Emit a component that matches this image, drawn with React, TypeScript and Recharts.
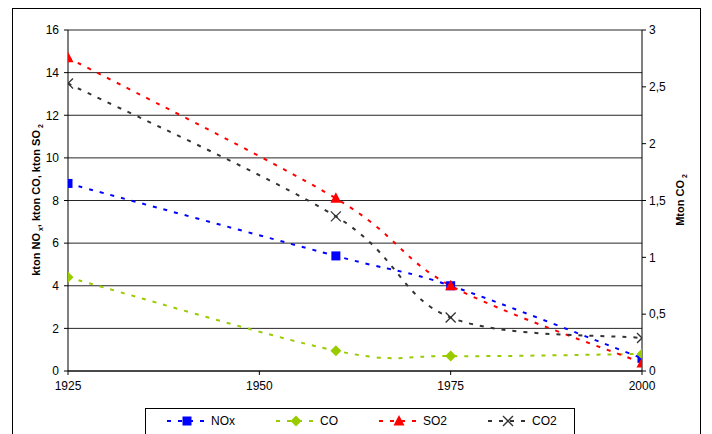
import React from "react";
import {
  LineChart,
  Line,
  XAxis,
  YAxis,
  CartesianGrid,
  Legend,
} from "recharts";

const years = [1925, 1960, 1975, 2000];
const noxValues = [8.8, 5.4, 4.0, 0.6];
const coValues = [4.4, 0.95, 0.7, 0.8];
const so2Values = [14.7, 8.1, 4.0, 0.38];
const co2Values = [2.53, 1.36, 0.47, 0.29];

const xTicks = [1925, 1950, 1975, 2000];
const leftTicks = [0, 2, 4, 6, 8, 10, 12, 14, 16];
const rightTicks = [0, 0.5, 1, 1.5, 2, 2.5, 3];

const seriesInfo = [
  { key: "NOx", name: "NOx", color: "#0000FF", shape: "square" },
  { key: "CO", name: "CO", color: "#99CC00", shape: "diamond" },
  { key: "SO2", name: "SO2", color: "#FF0000", shape: "triangle" },
  { key: "CO2", name: "CO2", color: "#333333", shape: "cross" },
];

const data = years.map((y, i) => ({
  year: y,
  NOx: noxValues[i],
  CO: coValues[i],
  SO2: so2Values[i],
  CO2: co2Values[i],
}));

const FONT = "'Liberation Sans', Arial, sans-serif";

// Excel-like smoothed line (Catmull-Rom through points, as cubic Beziers)
const excelSmooth: any = (context: any) => {
  let pts: number[][] = [];
  return {
    areaStart() {},
    areaEnd() {},
    lineStart() {
      pts = [];
    },
    point(x: number, y: number) {
      pts.push([+x, +y]);
    },
    lineEnd() {
      const n = pts.length;
      if (n === 0) return;
      context.moveTo(pts[0][0], pts[0][1]);
      for (let i = 0; i < n - 1; i++) {
        const p0 = pts[Math.max(i - 1, 0)];
        const p1 = pts[i];
        const p2 = pts[i + 1];
        const p3 = pts[Math.min(i + 2, n - 1)];
        context.bezierCurveTo(
          p1[0] + (p2[0] - p0[0]) / 6,
          p1[1] + (p2[1] - p0[1]) / 6,
          p2[0] - (p3[0] - p1[0]) / 6,
          p2[1] - (p3[1] - p1[1]) / 6,
          p2[0],
          p2[1]
        );
      }
    },
  };
};

function Marker({ shape, color, cx, cy }: { shape: string; color: string; cx: number; cy: number }) {
  if (cx == null || cy == null) return null;
  if (shape === "square") {
    return <rect x={cx - 4.5} y={cy - 4.5} width={9} height={9} fill={color} />;
  }
  if (shape === "diamond") {
    return (
      <polygon
        points={`${cx},${cy - 5.5} ${cx + 5.5},${cy} ${cx},${cy + 5.5} ${cx - 5.5},${cy}`}
        fill={color}
      />
    );
  }
  if (shape === "triangle") {
    return (
      <polygon
        points={`${cx},${cy - 6} ${cx + 5.5},${cy + 4.5} ${cx - 5.5},${cy + 4.5}`}
        fill={color}
      />
    );
  }
  return (
    <g stroke={color} strokeWidth={1.3}>
      <line x1={cx - 5} y1={cy - 5} x2={cx + 5} y2={cy + 5} />
      <line x1={cx - 5} y1={cy + 5} x2={cx + 5} y2={cy - 5} />
    </g>
  );
}

const makeDot = (shape: string, color: string) => (props: any) => (
  <Marker key={`${shape}-${props.index}`} shape={shape} color={color} cx={props.cx} cy={props.cy} />
);

const LeftLabel = () => {
  const x = 40;
  const y = 200;
  return (
    <text
      x={x}
      y={y}
      transform={`rotate(-90, ${x}, ${y})`}
      textAnchor="middle"
      fontFamily={FONT}
      fontWeight="bold"
      fontSize={11}
      fill="#000"
    >
      <tspan>kton NO</tspan>
      <tspan fontSize={7} dy={3}> x</tspan>
      <tspan dy={-3}>, kton CO, kton SO</tspan>
      <tspan fontSize={7} dy={3}> 2</tspan>
    </text>
  );
};

const RightLabel = () => {
  const x = 684;
  const y = 200;
  return (
    <text
      x={x}
      y={y}
      transform={`rotate(-90, ${x}, ${y})`}
      textAnchor="middle"
      fontFamily={FONT}
      fontWeight="bold"
      fontSize={11}
      fill="#000"
    >
      <tspan>Mton CO</tspan>
      <tspan fontSize={7} dy={3}> 2</tspan>
    </text>
  );
};

const LegendContent = () => {
  const itemX = [22, 131, 234, 343];
  return (
    <svg width={430} height={30} style={{ display: "block" }}>
      {seriesInfo.map((s, i) => {
        const x0 = itemX[i];
        return (
          <g key={s.key}>
            <line
              x1={x0}
              y1={12}
              x2={x0 + 38}
              y2={12}
              stroke={s.color}
              strokeWidth={2}
              strokeDasharray="4 7"
            />
            <Marker shape={s.shape} color={s.color} cx={x0 + 20} cy={12} />
            <text x={x0 + 44} y={16} fontFamily={FONT} fontSize={12} fill="#000">
              {s.name}
            </text>
          </g>
        );
      })}
    </svg>
  );
};

const fmtRight = (v: number) => String(v).replace(".", ",");

export default function App() {
  return (
    <div style={{ position: "absolute", left: 0, top: 0, width: 712, height: 434, background: "#fff", overflow: "hidden" }}>
      <div
        style={{
          position: "absolute",
          left: 12,
          top: 8,
          width: 689,
          height: 440,
          border: "1px solid #000",
          boxSizing: "border-box",
        }}
      />
      <div
        style={{
          position: "absolute",
          left: 145,
          top: 408,
          width: 430,
          height: 40,
          border: "1px solid #000",
          boxSizing: "border-box",
          background: "#fff",
        }}
      />
      <div style={{ position: "absolute", left: 0, top: 0 }}>
        <LineChart
          width={712}
          height={434}
          data={data}
          margin={{ top: 30, right: 30, left: 28, bottom: 38 }}
        >
          <CartesianGrid
            yAxisId="left"
            vertical={false}
            horizontal={true}
            stroke="#000"
            strokeOpacity={0.85}
          />
          <XAxis
            dataKey="year"
            type="number"
            domain={[1925, 2000]}
            ticks={xTicks}
            height={25}
            tickSize={4}
            tickMargin={6}
            axisLine={{ stroke: "#000" }}
            tickLine={{ stroke: "#000" }}
            tick={{ fontFamily: FONT, fontSize: 12, fill: "#000" }}
            allowDataOverflow
          />
          <YAxis
            yAxisId="left"
            domain={[0, 16]}
            ticks={leftTicks}
            width={40}
            tickSize={4}
            tickMargin={5}
            axisLine={{ stroke: "#000" }}
            tickLine={{ stroke: "#000" }}
            tick={{ fontFamily: FONT, fontSize: 12, fill: "#000" }}
            label={{ content: LeftLabel }}
          />
          <YAxis
            yAxisId="right"
            orientation="right"
            domain={[0, 3]}
            ticks={rightTicks}
            width={40}
            tickSize={4}
            tickMargin={3}
            tickFormatter={fmtRight}
            axisLine={{ stroke: "#000" }}
            tickLine={{ stroke: "#000" }}
            tick={{ fontFamily: FONT, fontSize: 12, fill: "#000" }}
            label={{ content: RightLabel }}
          />
          {seriesInfo.map((s) => (
            <Line
              key={s.key}
              yAxisId={s.key === "CO2" ? "right" : "left"}
              dataKey={s.key}
              name={s.name}
              type={excelSmooth}
              stroke={s.color}
              strokeWidth={2}
              strokeDasharray="4 7"
              dot={makeDot(s.shape, s.color)}
              activeDot={false}
              isAnimationActive={false}
            />
          ))}
          <Legend
            layout="horizontal"
            verticalAlign="middle"
            align="center"
            content={LegendContent}
            wrapperStyle={{ position: "absolute", left: 145, top: 409, width: 430, height: 30 }}
          />
        </LineChart>
      </div>
    </div>
  );
}
